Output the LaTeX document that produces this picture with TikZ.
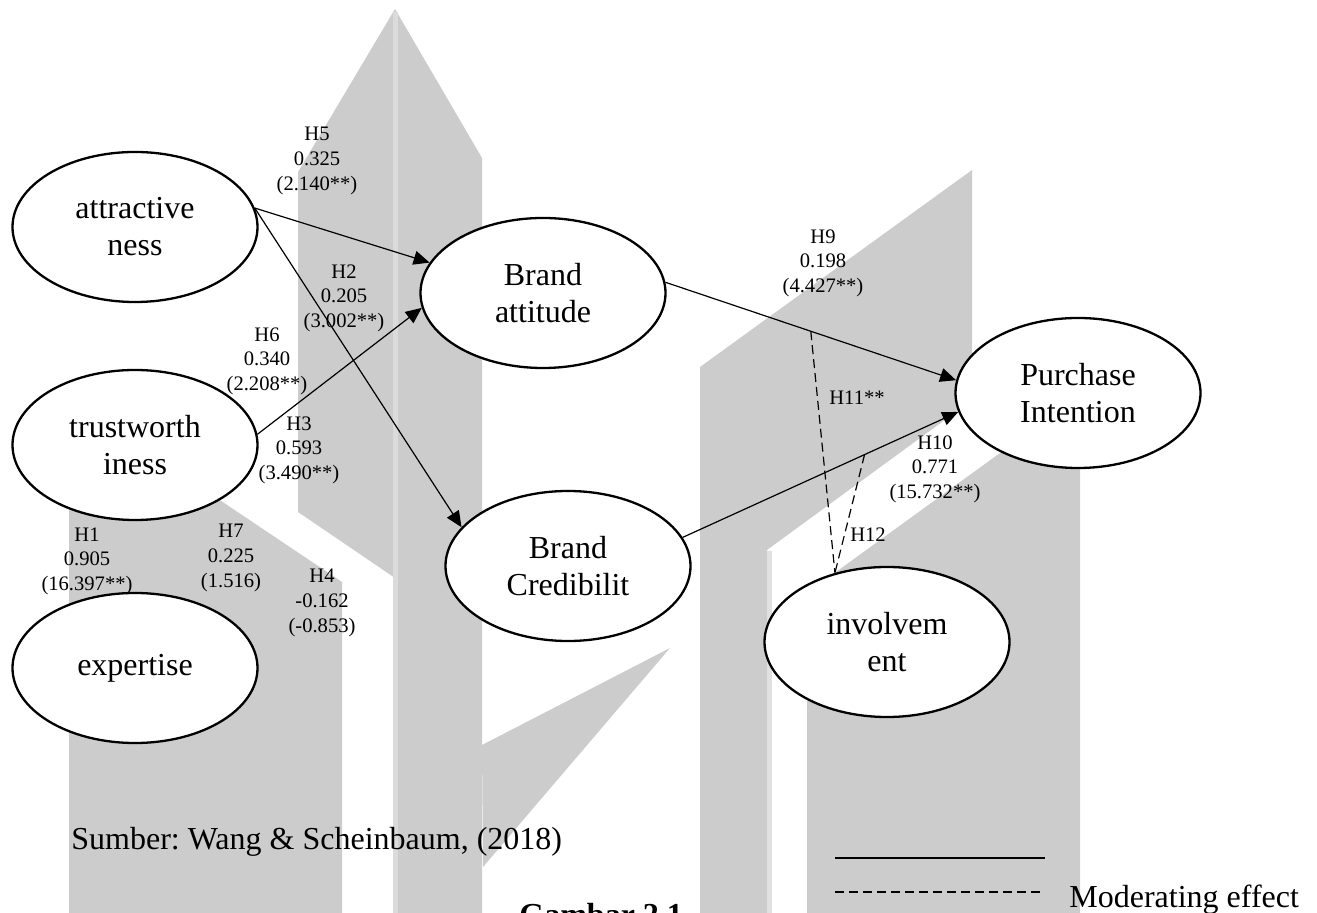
\documentclass[tikz,border=0pt]{standalone}
\usepackage{fontspec}
\setmainfont{Liberation Serif}
\usetikzlibrary{shapes,arrows.meta,positioning}
\frenchspacing

\begin{document}
\begin{tikzpicture}[x=0.5pt,y=-0.5pt,
    var/.style={ellipse,draw,line width=1.15pt,fill=white,minimum width=122.5pt,minimum height=75pt,inner sep=0pt,align=center,font=\fontsize{16}{18.5}\selectfont},
    lbl/.style={align=center,inner sep=0pt,font=\fontsize{10.3}{12.3}\selectfont},
    link/.style={line width=0.6pt,-{Triangle[length=8pt,width=7pt]}},
    mod/.style={line width=0.6pt,dash pattern=on 4.5pt off 2.5pt}]
        \useasboundingbox (0,0) rectangle (1317,913);
        \clip (0,0) rectangle (1317,913);
        % Draw watermark
        \fill[black!20] (69,399) -- (342,582) -- (342,913) -- (69,913) -- cycle;
        \fill[black!20] (298,172) -- (395,9) -- (482,158) -- (482,913) -- (398,913) -- (398,580) -- (298,512) -- cycle;
        \draw[black!14,line width=2.5pt] (395.5,12) -- (395.5,913);
        \fill[black!20] (482,745) -- (670,648) -- (483,867) -- cycle;
        \fill[black!20] (700,367) -- (972,170) -- (972,400) -- (767,550) -- (767,913) -- (700,913) -- cycle;
        \draw[black!12,line width=2.5pt] (769.5,551) -- (769.5,913);
        \fill[black!20] (807,593) -- (1080,395) -- (1080,913) -- (807,913) -- cycle;
        % Draw constructs
        \node[var] (att) at (135,227) {attractive\\ness};
        \node[var] (trust) at (135,445) {trustworth\\iness};
        \node[var] (expt) at (135,668) {expertise};
        \node[var] (ba) at (543,293) {Brand\\attitude};
        \node[var] (bc) at (568,566) {Brand\\Credibilit};
        \node[var] (pi) at (1078,393) {Purchase\\Intention};
        \node[var] (inv) at (887,642) {involvem\\ent};
        % Draw paths
        \draw[link] (att.9) -- (ba.165);
        \draw[link] (att.9) -- (bc.160);
        \draw[link] (trust.5) -- (ba.187);
        \draw[link] (ba.5) -- coordinate[pos=0.5] (m9) (pi.174);
        \draw[link] (bc.14) -- coordinate[pos=0.66] (m10) (pi.189);
        % Draw moderating paths
        \draw[mod] (m9) -- (inv.127);
        \draw[mod] (m10) -- (inv.127);
        % Draw coefficients
        \node[lbl] (h5) at (317,161) {H5\\0.325\\(2.140**)};
        \node[lbl] (h2) at (344,298) {H2\\0.205\\(3.002**)};
        \node[lbl] (h6) at (267,361) {H6\\0.340\\(2.208**)};
        \node[lbl] (h3) at (299,450) {H3\\0.593\\(3.490**)};
        \node[lbl] (h1) at (87,561) {H1\\0.905\\(16.397**)};
        \node[lbl] (h7) at (231,558) {H7\\0.225\\(1.516)};
        \node[lbl] (h4) at (322,603) {H4\\-0.162\\(-0.853)};
        \node[lbl] (h9) at (823,263) {H9\\0.198\\(4.427**)};
        \node[lbl] (h11) at (857,398) {H11**};
        \node[lbl] (h10) at (935,469) {H10\\0.771\\(15.732**)};
        \node[lbl] (h12) at (868,535) {H12};
        % Draw source and caption
        \node[anchor=base west,inner sep=0pt,font=\fontsize{16}{19}\selectfont] (src) at (71,849) {Sumber: Wang \& Scheinbaum, (2018)};
        \node[anchor=base west,inner sep=0pt,font=\bfseries\fontsize{16}{19}\selectfont] (fig) at (519,925) {Gambar 2.1};
        % Draw legend
        \coordinate (s1) at (835,858);
        \coordinate (s2) at (1045,858);
        \coordinate (d1) at (835,892);
        \coordinate (d2) at (1045,892);
        \draw[line width=0.6pt] (s1) -- (s2);
        \draw[mod] (d1) -- (d2);
        \node[anchor=base west,inner sep=0pt,font=\fontsize{16}{19}\selectfont] (leg) at (1069,907) {Moderating effect};
    \end{tikzpicture}
\end{document}
